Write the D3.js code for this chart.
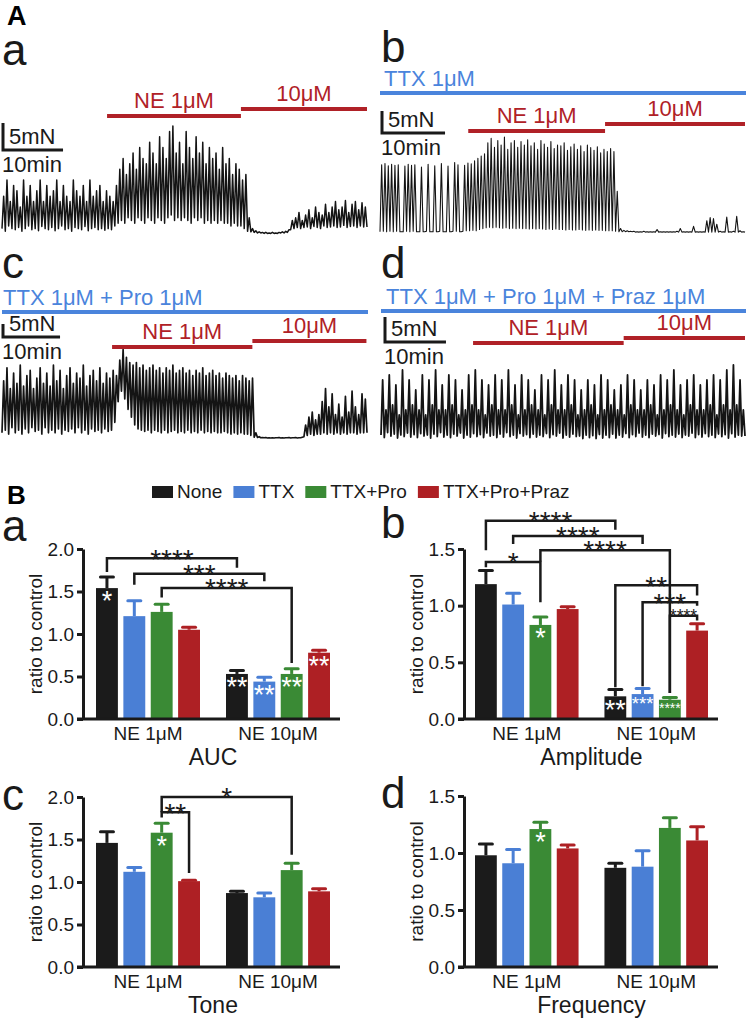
<!DOCTYPE html>
<html>
<head>
<meta charset="utf-8">
<script src="https://cdn.jsdelivr.net/npm/d3@7/dist/d3.min.js"></script>
<style>
  body { margin: 0; background: #fff; }
  svg { display: block; font-family: "Liberation Sans", Arial, Helvetica, sans-serif; }
</style>
</head>
<body>
<script>
// ---------- bar chart data ----------
var groups = ["NE 1μM", "NE 10μM"];
var treatments = ["None", "TTX", "TTX+Pro", "TTX+Pro+Praz"];
var colors = ["#1b1b1b", "#4a7fd5", "#3a8a35", "#ae2024"];
var yTicks2 = [0, 0.5, 1.0, 1.5, 2.0];
var yTicks15 = [0, 0.5, 1.0, 1.5];

var aucMean = [[1.54, 1.21, 1.26, 1.05], [0.53, 0.44, 0.53, 0.78]];
var aucErr = [[0.13, 0.18, 0.09, 0.03], [0.04, 0.05, 0.06, 0.03]];
var aucStars = [["*", "", "", ""], ["**", "**", "**", "**"]];
var aucBrackets = [
    {from: [0, 0], to: [1, 0], top: 1.89, left: 1.73, right: 1.78, label: "****"},
    {from: [0, 1], to: [1, 1], top: 1.71, left: 1.58, right: 1.62, label: "***"},
    {from: [0, 2], to: [1, 2], top: 1.54, left: 1.43, right: 0.66, label: "****"}
];

var ampMean = [[1.19, 1.01, 0.83, 0.97], [0.20, 0.22, 0.17, 0.78]];
var ampErr = [[0.12, 0.10, 0.07, 0.02], [0.06, 0.05, 0.02, 0.06]];
var ampStars = [["", "", "*", ""], ["**", "***", "****", ""]];
var ampBrackets = [
    {from: [0, 0], to: [1, 0], top: 1.75, left: 1.49, right: 1.67, label: "****"},
    {from: [0, 1], to: [1, 1], top: 1.615, left: 1.545, right: 1.545, label: "****"},
    {from: [0, 2], to: [1, 2], top: 1.49, left: 1.39, right: 0.23, label: "****"},
    {from: [0, 0], to: [0, 2], top: 1.385, left: 1.34, right: 1.03, label: "*"},
    {from: [1, 0], to: [1, 3], top: 1.18, left: 0.28, right: 1.09, label: "**"},
    {from: [1, 1], to: [1, 3], top: 1.03, left: 0.29, right: 1.00, label: "***"},
    {from: [1, 2], to: [1, 3], top: 0.91, left: 0.23, right: 0.87, label: "****"}
];

var toneMean = [[1.46, 1.12, 1.58, 1.01], [0.87, 0.82, 1.14, 0.89]];
var toneErr = [[0.13, 0.05, 0.11, 0.01], [0.02, 0.05, 0.08, 0.03]];
var toneStars = [["", "", "*", ""], ["", "", "", ""]];
var toneBrackets = [
    {from: [0, 2], to: [1, 2], top: 2.0, left: 1.82, right: 1.32, label: "*"},
    {from: [0, 2], to: [0, 3], top: 1.82, left: 1.76, right: 1.105, label: "**"}
];

var freqMean = [[0.98, 0.91, 1.21, 1.04], [0.87, 0.88, 1.22, 1.11]];
var freqErr = [[0.10, 0.12, 0.06, 0.03], [0.04, 0.14, 0.09, 0.12]];
var freqStars = [["", "", "*", ""], ["", "", "", ""]];
var freqBrackets = [];

// ---------- force traces (mN), one peak / trough per contraction ----------
var traceAPeaks = [
    7, 10, 6, 9, 8, 5, 10, 7, 9, 6, 8, 10, 6, 9, 7, 8, 10, 6, 9, 7,
    6, 10, 8, 7, 9, 6, 10, 7, 8, 9, 6, 8, 7, 6,
    9, 12, 14, 11, 13, 15, 12, 16, 14, 13, 17, 15, 13, 18, 16, 14, 19, 20, 15, 17,
    13, 19, 16, 14, 18, 15, 17, 13, 16, 14, 15, 12, 16, 13, 14, 11, 13, 12, 10, 11,
    3, 1, 0.6, 0.4, 0.3, 0.3, 0.2, 0.3, 0.2, 0.3, 0.4, 0.5, 0.8,
    2.5, 3, 4, 2.5, 3.5, 4.5, 3, 5, 4, 3.5, 5.5, 4, 5, 6, 4.5, 5, 6.2, 4, 5.5, 6,
    4.5, 5.8, 5
];
var traceATroughs = [
    1, 0.5, 1.5, 1, 0.8, 1.2, 0.5, 1, 1.5, 0.8, 1, 0.6, 1.4, 1, 0.8, 1.2, 0.6, 1, 1.5, 0.8,
    1, 0.5, 1.2, 1, 0.8, 1.4, 0.6, 1, 1.2, 0.8, 1, 0.7, 1, 0.8,
    1.5, 2, 2.5, 2, 3, 2.5, 2, 3, 2.5, 2, 3, 2.5, 2, 3, 2.5, 2, 3, 3.5, 2.5, 3,
    2.5, 3, 2.5, 2, 3, 2.5, 3, 2, 2.5, 2, 2.5, 2, 2.5, 2, 2, 1.5, 2, 1.5, 1.5, 1,
    0.5, 0.4, 0.3, 0.2, 0.2, 0.1, 0.1, 0.1, 0.1, 0.1, 0.2, 0.2, 0.3,
    0.8, 1, 1.2, 1, 1.2, 1.3, 1, 1.4, 1.2, 1, 1.5, 1.2, 1.3, 1.5, 1.2, 1.3, 1.6, 1.2, 1.4, 1.5,
    1.2, 1.5, 1.3
];

var traceBPeaks = [
    15.5, 15.8, 15.3, 15.6, 15.4, 15.5, 0.3, 15.2, 15.6, 15.4, 15.5,
    0.3, 15, 0.3, 15.6, 0.3, 15.3, 0.3, 15.8, 0.3,
    15.2, 0.3, 16, 15.5, 0.3, 15.4, 15.9, 15.7, 16.4,
    17, 17.5, 18, 20.5, 21.5, 19.5, 21, 20, 21.8, 19, 20.5, 21, 19.5, 20.8, 20, 21.2, 19.8, 20.5, 19, 21,
    20.2, 19.5, 20.8, 19.2, 20, 19.8, 20.5, 18.8, 19.6, 20.2, 19, 19.8, 18.5, 20, 19.4, 18.8, 19.6, 18.2, 19, 18.5,
    19.2,
    18.5, 9.5, 1, 0.6, 0.5, 0.4, 0.4, 0.3, 0.3, 0.4, 0.3, 0.3, 0.3, 0.8, 0.3, 0.3, 0.3, 0.3, 0.3, 0.4,
    1, 0.3, 0.3, 0.3, 1.5, 0.3, 0.3, 0.3, 2.8, 3.5, 3.3, 2, 0.4, 0.3, 3.6, 0.3, 0.4, 3.8, 0.5, 0.3
];
var traceBTroughs = [
    0.3, 0.4, 0.3, 0.4, 0.3, 0.4, 0.3, 0.3, 0.4, 0.3, 0.4,
    0.3, 0.3, 0.3, 0.4, 0.3, 0.3, 0.3, 0.4, 0.3,
    0.3, 0.3, 0.4, 0.4, 0.3, 0.4, 0.5, 0.5, 0.6,
    0.5, 0.8, 1, 1.2, 1.3, 1.2, 1.3, 1.2, 1.1, 1.2, 1, 1.1, 1, 1.1, 1, 1, 0.9, 1, 0.9, 1,
    0.9, 0.8, 0.9, 0.8, 0.9, 0.8, 0.8, 0.7, 0.8, 0.7, 0.7, 0.8, 0.7, 0.6, 0.7, 0.6, 0.7, 0.6, 0.6, 0.5,
    0.5,
    0.5, 0.4, 0.3, 0.3, 0.3, 0.3, 0.3, 0.2, 0.2, 0.2, 0.2, 0.2, 0.2, 0.2, 0.2, 0.2, 0.2, 0.2, 0.2, 0.2,
    0.2, 0.2, 0.2, 0.2, 0.2, 0.2, 0.2, 0.2, 0.2, 0.2, 0.2, 0.2, 0.2, 0.2, 0.2, 0.2, 0.2, 0.2, 0.2, 0.2
];

var traceCPeaks = [
    22, 27, 19, 25, 21, 28, 20, 24, 26, 19, 23, 27, 21, 25, 20, 28, 22, 26, 19, 24,
    27, 21, 25, 23, 28, 20, 24, 26, 22, 27, 21, 25, 23, 26,
    24, 30, 34, 31, 29, 28, 29, 27, 28, 26, 27, 28, 26, 27, 25, 27, 26, 28, 25, 26,
    27, 25, 26, 24, 26, 25, 27, 24, 25, 26, 24, 25, 23, 25, 24, 23, 24, 22, 24, 23,
    22, 23,
    2, 0.5, 0.2, 0.2, 0.1, 0.1, 0.1, 0.2, 0.1, 0.1, 0.2, 0.1, 0.2, 0.1, 0.3,
    5, 8, 10, 7, 9, 14, 19, 12, 17, 9, 13, 8, 16, 10, 18, 12, 9, 17, 15
];
var traceCTroughs = [
    2, 3, 1.5, 4, 2, 3, 1.5, 3.5, 2, 4, 2.5, 3, 1.5, 4, 2, 3, 2, 3.5, 1.5, 3,
    2.5, 3.5, 2, 4, 2, 3, 1.5, 3.5, 2.5, 3, 2, 3.5, 2.5, 3,
    6, 14, 18, 15, 11, 8, 5, 3.5, 3, 2.5, 3, 2, 3, 2.5, 2, 3, 2, 2.5, 3, 2,
    2.5, 2, 3, 2, 2.5, 2, 3, 2, 2.5, 2, 2.5, 2, 2, 2.5, 2, 1.5, 2, 1.5, 2, 1.5,
    1.5, 1,
    0.3, 0.2, 0.1, 0.1, 0, 0, 0, 0.1, 0, 0, 0.1, 0, 0.1, 0, 0.1,
    0.5, 1, 1.5, 1, 1.5, 1.5, 2, 1.5, 2, 1.5, 2, 1.5, 2, 1.5, 2, 2, 1.5, 2, 2
];

var traceDPeaks = [
    12, 6, 13, 7, 11, 5, 14, 6, 12, 7, 10, 6, 13, 5, 12, 7, 14, 6, 11, 6,
    13, 7, 12, 5, 10, 6, 13, 7, 14, 6, 12, 5, 11, 7, 13, 6, 12, 6, 14, 7,
    11, 5, 13, 6, 12, 7, 10, 6, 13, 5, 12, 7, 14, 6, 11, 6, 13, 7, 12, 5,
    10, 6, 12, 7, 11, 5, 13, 6, 12, 7, 10, 6, 11, 5, 13, 7, 12, 6, 10, 6,
    12, 7, 11, 5, 13, 6, 12, 7, 14, 6, 11, 5, 12, 7, 13, 6, 11, 6, 12, 7,
    13, 5, 12, 7, 14, 6, 15, 7, 12, 6
];
var traceDTroughs = [
    1, 0.5, 1.5, 0.8, 1.2, 0.4, 1, 0.7, 1.4, 0.6, 1.1, 0.5, 1.3, 0.8, 1, 0.4, 1.2, 0.7, 1.5, 0.6,
    1, 0.5, 1.2, 0.8, 1.4, 0.4, 1, 0.6, 1.3, 0.7, 1.1, 0.5, 1.4, 0.8, 1, 0.5, 1.2, 0.6, 1.5, 0.7,
    1, 0.4, 1.3, 0.8, 1.1, 0.5, 1.2, 0.6, 1, 0.7, 1.3, 0.5, 1.1, 0.8, 1.4, 0.4, 1, 0.6, 1.2, 0.7,
    0.8, 0.3, 1, 0.5, 0.9, 0.3, 1.1, 0.4, 1, 0.5, 1.2, 0.4, 1, 0.6, 1.3, 0.5, 1.1, 0.7, 1.4, 0.6,
    1, 0.5, 1.2, 0.8, 1.1, 0.4, 1.3, 0.7, 1, 0.6, 1.2, 0.5, 1, 0.8, 1.4, 0.5, 1.1, 0.6, 1.3, 0.7,
    1, 0.5, 1.2, 0.7, 1.1, 0.4, 1.3, 0.6, 1, 0.8
];

var BLUE_TEXT = "#4a84dc";
var RED_LINE = "#b02127";
var INK = "#1a1a1a";

var svg = d3.select("body").append("svg")
    .attr("width", 747)
    .attr("height", 1020)
    .attr("viewBox", "0 0 747 1020");

/**
 * Draw one force recording with its drug bars and scale bar
 * @param p layout options for the panel
 */
var drawTrace = function (p) {
    var g = svg.append("g");
    var x = d3.scaleLinear().domain([0, p.minutes]).range([p.x0, p.x1]);
    var y = d3.scaleLinear().domain([0, 5]).range([p.base, p.base - p.px5]);
    var n = p.peaks.length;
    var dt = p.minutes / n;

    var pts = [];
    p.peaks.forEach(function (v, i) {
        pts.push([i * dt, p.troughs[i]]);
        pts.push([(i + 0.5) * dt, v]);
    });
    pts.push([n * dt, p.troughs[n - 1]]);

    g.append("path")
        .attr("d", d3.line().x(function (d) { return x(d[0]); }).y(function (d) { return y(d[1]); })(pts))
        .attr("fill", "none")
        .attr("stroke", "#141414")
        .attr("stroke-width", p.weight)
        .attr("stroke-linejoin", "round");

    // panel letter
    g.append("text").attr("x", p.letterX).attr("y", p.letterY)
        .attr("font-size", 44).attr("fill", INK).text(p.letter);

    // pretreatment bar
    if (p.blue) {
        g.append("line")
            .attr("x1", x(0)).attr("x2", x(p.minutes) + 1)
            .attr("y1", p.blueY).attr("y2", p.blueY)
            .attr("stroke", BLUE_TEXT).attr("stroke-width", 4);
        g.append("text").attr("x", p.blueX).attr("y", p.blueY - 7)
            .attr("font-size", 22).attr("fill", BLUE_TEXT).text(p.blue);
    }

    // NE bars
    [[p.ne1, p.ne1Y, "NE 1μM"], [p.ne10, p.ne10Y, "10μM"]].forEach(function (d) {
        g.append("line")
            .attr("x1", x(d[0][0])).attr("x2", x(d[0][1]))
            .attr("y1", d[1]).attr("y2", d[1])
            .attr("stroke", RED_LINE).attr("stroke-width", 4);
        g.append("text")
            .attr("x", (x(d[0][0]) + x(d[0][1])) / 2).attr("y", d[1] - 8.5)
            .attr("text-anchor", "middle").attr("font-size", 22)
            .attr("fill", RED_LINE).text(d[2]);
    });

    // scale bar: 5 mN by 10 min
    var len5 = y(0) - y(5);
    var len10 = x(10) - x(0);
    g.append("path")
        .attr("d", "M" + p.barX + "," + (p.barY - len5) + "V" + p.barY + "H" + (p.barX + len10))
        .attr("fill", "none").attr("stroke", INK).attr("stroke-width", 3);
    g.append("text").attr("x", p.barX + 6).attr("y", p.barY - 6)
        .attr("font-size", 22).attr("fill", INK).text("5mN");
    g.append("text").attr("x", p.barX - 1).attr("y", p.barY + 22)
        .attr("font-size", 22).attr("fill", INK).text("10min");
};

/**
 * Draw one grouped bar chart with error bars and significance marks
 * @param p layout options for the panel
 */
var drawBars = function (p) {
    var g = svg.append("g");
    var x0 = d3.scaleBand().domain(groups).range(p.barRange).paddingInner(0.2);
    var x1 = d3.scaleBand().domain(treatments).range([0, x0.bandwidth()]).paddingInner(0.2);
    var y = d3.scaleLinear().domain([0, p.max]).range([p.bottom, p.top]);
    var bw = x1.bandwidth();
    var cx = function (gi, si) { return x0(groups[gi]) + x1(treatments[si]) + bw / 2; };

    groups.forEach(function (grp, gi) {
        treatments.forEach(function (t, si) {
            var m = p.mean[gi][si];
            var e = p.err[gi][si];
            var c = cx(gi, si);
            g.append("rect")
                .attr("x", c - bw / 2).attr("y", y(m))
                .attr("width", bw).attr("height", y(0) - y(m))
                .attr("fill", colors[si]);
            g.append("line")
                .attr("x1", c).attr("x2", c).attr("y1", y(m)).attr("y2", y(m + e))
                .attr("stroke", colors[si]).attr("stroke-width", 3);
            g.append("line")
                .attr("x1", c - 6.5).attr("x2", c + 6.5).attr("y1", y(m + e)).attr("y2", y(m + e))
                .attr("stroke", colors[si]).attr("stroke-width", 3).attr("stroke-linecap", "round");
            var s = p.stars[gi][si];
            if (s) {
                var fs = Math.min(27, bw / (0.389 * s.length));
                g.append("text")
                    .attr("x", c).attr("y", y(m) + 3 + 0.716 * fs)
                    .attr("text-anchor", "middle").attr("font-size", fs)
                    .attr("fill", "#fff").text(s);
            }
        });
    });

    // significance brackets
    p.brackets.forEach(function (b) {
        var xa = cx(b.from[0], b.from[1]);
        var xb = cx(b.to[0], b.to[1]);
        g.append("path")
            .attr("d", "M" + xa + "," + y(b.left) + "V" + y(b.top) + "H" + xb + "V" + y(b.right))
            .attr("fill", "none").attr("stroke", INK).attr("stroke-width", 2.5);
        var fs = Math.min(28, Math.abs(xb - xa) / (0.389 * b.label.length));
        g.append("text")
            .attr("x", (xa + xb) / 2).attr("y", y(b.top) + 0.423 * fs - 1.5)
            .attr("text-anchor", "middle").attr("font-size", fs)
            .attr("fill", INK).text(b.label);
    });

    // y axis
    var ya = g.append("g")
        .attr("transform", "translate(" + p.axisX + ",0)")
        .call(d3.axisLeft(y).tickValues(p.ticks).tickFormat(d3.format(".1f"))
            .tickSize(6).tickSizeOuter(0).tickPadding(3));
    ya.select(".domain").attr("stroke", INK).attr("stroke-width", 3);
    ya.selectAll(".tick line").attr("stroke", INK).attr("stroke-width", 3);
    ya.selectAll(".tick text").attr("font-size", 19).attr("fill", INK)
        .attr("font-family", "Liberation Sans, Arial, sans-serif");

    // x axis
    g.append("line")
        .attr("x1", p.axisX - 6).attr("x2", p.xEnd)
        .attr("y1", y(0)).attr("y2", y(0))
        .attr("stroke", INK).attr("stroke-width", 3);
    var xa = g.append("g")
        .attr("transform", "translate(0," + y(0) + ")")
        .call(d3.axisBottom(x0).tickSize(0).tickPadding(8));
    xa.select(".domain").remove();
    xa.selectAll(".tick text").attr("font-size", 19).attr("fill", INK)
        .attr("font-family", "Liberation Sans, Arial, sans-serif");

    var mid = (x0(groups[0]) + x0(groups[1]) + x0.bandwidth()) / 2;
    g.append("text").attr("x", mid).attr("y", y(0) + 46)
        .attr("text-anchor", "middle").attr("font-size", 23).attr("fill", INK).text(p.title);

    g.append("text")
        .attr("transform", "translate(" + (p.axisX - 41) + "," + ((p.top + p.bottom) / 2) + ") rotate(-90)")
        .attr("text-anchor", "middle").attr("font-size", 19).attr("fill", INK)
        .text("ratio to control");

    g.append("text").attr("x", p.letterX).attr("y", p.letterY)
        .attr("font-size", 44).attr("fill", INK).text(p.letter);
};

// ---------- section A ----------
svg.append("text").attr("x", 7).attr("y", 25).attr("font-size", 27)
    .attr("font-weight", "bold").attr("fill", "#000").text("A");

drawTrace({letter: "a", letterX: 2, letterY: 65, x0: 2, x1: 367, base: 234, px5: 27, minutes: 60.8,
    peaks: traceAPeaks, troughs: traceATroughs, ne1: [17.5, 39.8], ne10: [39.8, 60.8],
    ne1Y: 116, ne10Y: 109, barX: 3, barY: 150, blue: null, weight: 1.5});
drawTrace({letter: "b", letterX: 381, letterY: 62, x0: 380, x1: 745, base: 233, px5: 22, minutes: 57.9,
    peaks: traceBPeaks, troughs: traceBTroughs, ne1: [14.0, 35.7], ne10: [35.7, 57.9],
    ne1Y: 131, ne10Y: 124, barX: 382, barY: 133,
    blue: "TTX 1μM", blueX: 384, blueY: 93, weight: 1.1});
drawTrace({letter: "c", letterX: 2, letterY: 278, x0: 2, x1: 367, base: 438, px5: 13, minutes: 64,
    peaks: traceCPeaks, troughs: traceCTroughs, ne1: [19.3, 43.9], ne10: [43.9, 63.9],
    ne1Y: 347, ne10Y: 341, barX: 3, barY: 337,
    blue: "TTX 1μM + Pro 1μM", blueX: 3, blueY: 312, weight: 1.7});
drawTrace({letter: "d", letterX: 381, letterY: 278, x0: 381, x1: 745, base: 440, px5: 25, minutes: 59.7,
    peaks: traceDPeaks, troughs: traceDTroughs, ne1: [15.1, 39.8], ne10: [39.8, 59.7],
    ne1Y: 343, ne10Y: 338, barX: 385, barY: 342,
    blue: "TTX 1μM + Pro 1μM + Praz 1μM", blueX: 386, blueY: 311, weight: 1.8});

// ---------- section B ----------
svg.append("text").attr("x", 7).attr("y", 504).attr("font-size", 26)
    .attr("font-weight", "bold").attr("fill", "#000").text("B");

// legend
var legend = svg.append("g");
var lx = 152;
treatments.forEach(function (t, i) {
    legend.append("rect").attr("x", lx).attr("y", 486).attr("width", 21).attr("height", 12)
        .attr("fill", colors[i]);
    var txt = legend.append("text").attr("x", lx + 25).attr("y", 498)
        .attr("font-size", 19).attr("fill", INK).text(t);
    lx += 25 + txt.node().getComputedTextLength() + 11;
});

drawBars({letter: "a", letterX: 2, letterY: 541, axisX: 83, xEnd: 340, barRange: [96, 330],
    top: 549, bottom: 719, max: 2.0, ticks: yTicks2, title: "AUC",
    mean: aucMean, err: aucErr, stars: aucStars, brackets: aucBrackets});
drawBars({letter: "b", letterX: 381, letterY: 538, axisX: 464, xEnd: 718, barRange: [475, 708],
    top: 549, bottom: 719, max: 1.5, ticks: yTicks15, title: "Amplitude",
    mean: ampMean, err: ampErr, stars: ampStars, brackets: ampBrackets});
drawBars({letter: "c", letterX: 2, letterY: 810, axisX: 83, xEnd: 340, barRange: [96, 330],
    top: 797, bottom: 967, max: 2.0, ticks: yTicks2, title: "Tone",
    mean: toneMean, err: toneErr, stars: toneStars, brackets: toneBrackets});
drawBars({letter: "d", letterX: 381, letterY: 808, axisX: 464, xEnd: 718, barRange: [475, 708],
    top: 796, bottom: 967, max: 1.5, ticks: yTicks15, title: "Frequency",
    mean: freqMean, err: freqErr, stars: freqStars, brackets: freqBrackets});
</script>
</body>
</html>
